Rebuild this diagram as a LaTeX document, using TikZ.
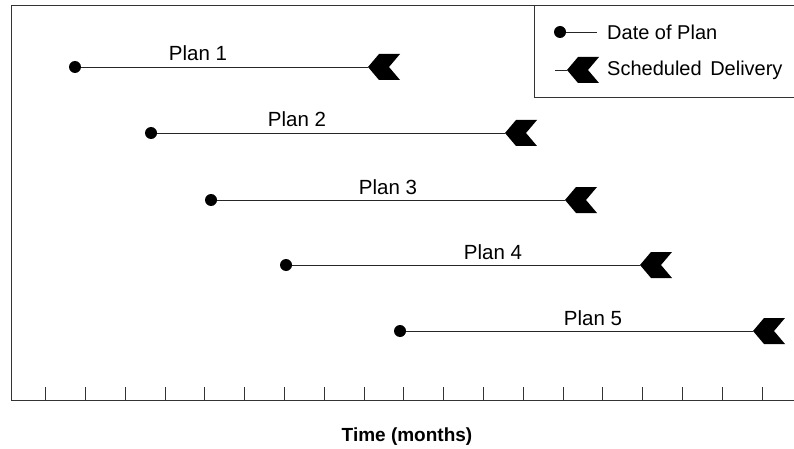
\documentclass[tikz,border=0pt]{standalone}
\usepackage{fontspec}
\setmainfont{Liberation Sans}
\begin{document}
\begin{tikzpicture}[x=1pt,y=-1pt,
  frameline/.style={draw=black!80,line width=0.9pt},
  planline/.style={draw=black!85,line width=0.9pt},
  datedot/.style={circle,fill=black,inner sep=0pt,minimum size=12pt},
  lbl/.style={font=\fontsize{20.5}{24}\selectfont,anchor=base,inner sep=0pt},
  leglbl/.style={font=\fontsize{20}{24}\selectfont,anchor=west,inner sep=0pt},
  deliv/.pic={\fill[black] (0,0) -- (11,-13) -- (32,-13) -- (21,0) -- (32,13) -- (11,13) -- cycle;}
]
\useasboundingbox (0,0) rectangle (794,449);
% frame
\coordinate (tl) at (11,5);
\coordinate (tr) at (794,5);
\coordinate (bl) at (11,400);
\coordinate (br) at (794,400);
\draw[frameline] (tr) -- (tl) -- (bl) -- (br);
% ticks
\foreach \k in {0,...,18}{
  \draw[frameline] ({45.7+39.8*\k},387) -- ({45.7+39.8*\k},400);
}
% legend box
\coordinate (lgt) at (534,5);
\coordinate (lgb) at (534,97);
\coordinate (lgr) at (794,97);
\draw[frameline] (lgt) -- (lgb) -- (lgr);
% legend entries
\node[datedot] (ld) at (560,32) {};
\coordinate (ldend) at (597,32);
\draw[planline] (ld) -- (ldend);
\node[leglbl] (lt1) at (607,32) {Date of Plan};
\coordinate (lastart) at (555,70);
\coordinate (latip) at (567,70);
\draw[planline] (lastart) -- (latip);
\pic at (latip) {deliv};
\node[leglbl] (lt2) at (607,70) {Scheduled \hspace{3pt}Delivery};
% plans
\foreach \n/\dx/\y/\tx/\lx in {1/75/67/368/198, 2/151/133/505/297, 3/211/200/565/388, 4/286/265/640/493, 5/400/331/753/593}{
  \node[datedot] (d\n) at (\dx,\y) {};
  \coordinate (t\n) at (\tx,\y);
  \draw[planline] (d\n) -- (t\n);
  \pic at (t\n) {deliv};
  \node[lbl] (p\n) at (\lx,\y-6) {Plan \n};
}
% axis title
\node[font=\bfseries\fontsize{19}{22}\selectfont,inner sep=0pt] (title) at (407,437) {Time (months)};
\end{tikzpicture}
\end{document}
